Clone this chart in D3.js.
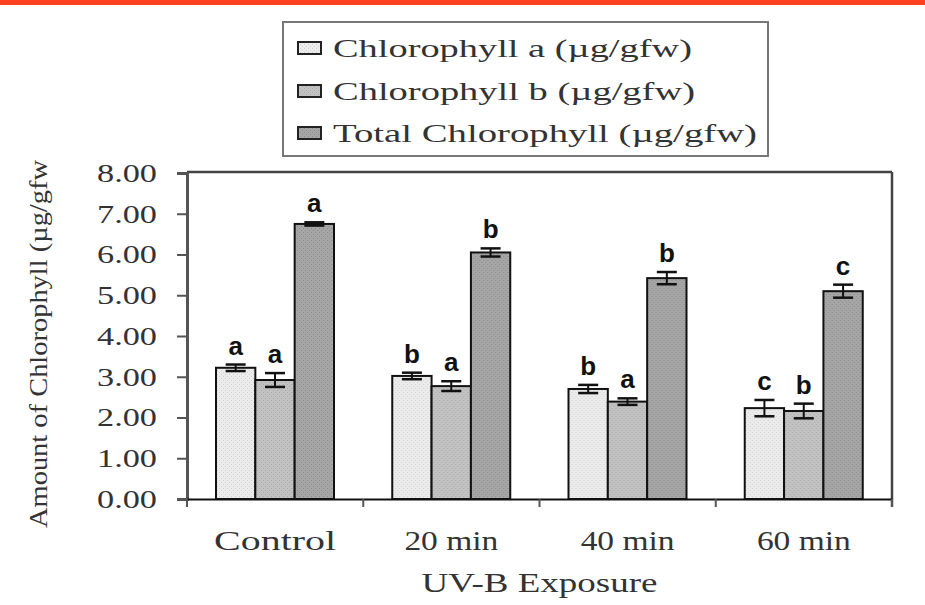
<!DOCTYPE html>
<html><head><meta charset="utf-8">
<script src="https://cdn.jsdelivr.net/npm/d3@7"></script>
<style>body{margin:0;background:#fff}svg{display:block}</style>
</head><body>
<svg id="c" width="925" height="605"></svg>
<script>
const categories = ["Control", "20 min", "40 min", "60 min"];
const seriesNames = ["Chlorophyll a (µg/gfw)", "Chlorophyll b (µg/gfw)", "Total Chlorophyll (µg/gfw)"];
const chlA = [3.22, 3.02, 2.70, 2.23];
const chlB = [2.92, 2.77, 2.39, 2.16];
const chlTotal = [6.75, 6.05, 5.42, 5.10];
const errA = [0.08, 0.08, 0.10, 0.20];
const errB = [0.17, 0.12, 0.08, 0.18];
const errTotal = [0.04, 0.10, 0.15, 0.16];
const sigA = ["a", "b", "b", "c"];
const sigB = ["a", "a", "a", "b"];
const sigTotal = ["a", "b", "b", "c"];
const yTicks = [0, 1, 2, 3, 4, 5, 6, 7, 8];

(function () {
const values = [chlA, chlB, chlTotal];
const errs = [errA, errB, errTotal];
const sigs = [sigA, sigB, sigTotal];
const fills = ["#ececec", "#c2c2c2", "#a6a6a6"];
const dots = ["#cfcfcf", "#a8a8a8", "#8a8a8a"];

const svg = d3.select("#c");
const serif = "'Liberation Serif','Times New Roman',serif";

svg.append("rect").attr("x", 0).attr("y", 0).attr("width", 925).attr("height", 5).attr("fill", "#ff3f1e");

const defs = svg.append("defs");
fills.forEach((f, i) => {
  const p = defs.append("pattern").attr("id", "pat" + i).attr("patternUnits", "userSpaceOnUse")
    .attr("width", 4).attr("height", 4);
  p.append("rect").attr("width", 4).attr("height", 4).attr("fill", f);
  p.append("rect").attr("x", 0).attr("y", 0).attr("width", 1).attr("height", 1).attr("fill", dots[i]);
  p.append("rect").attr("x", 2).attr("y", 2).attr("width", 1).attr("height", 1).attr("fill", dots[i]);
});

const pL = 187, pR = 892, pT = 173, pB = 499;
const x0 = d3.scaleBand().domain(categories).range([pL, pR]).padding(0);
const x1 = d3.scaleBand().domain(d3.range(3)).range([29, 147]).padding(0);
const y = d3.scaleLinear().domain([0, 8]).range([pB, pT]);

const groups = svg.append("g").selectAll("g").data(categories).join("g")
  .attr("transform", d => `translate(${x0(d)},0)`);
groups.each(function (cat, ci) {
  const g = d3.select(this);
  for (let s = 0; s < 3; s++) {
    const v = values[s][ci], e = errs[s][ci];
    const bx = x1(s), bw = x1.bandwidth();
    g.append("rect").attr("x", bx).attr("y", y(v)).attr("width", bw).attr("height", y(0) - y(v))
      .attr("fill", `url(#pat${s})`).attr("stroke", "#111").attr("stroke-width", 2);
    const cx = bx + bw / 2;
    g.append("line").attr("x1", cx).attr("x2", cx).attr("y1", y(v + e)).attr("y2", y(v - e))
      .attr("stroke", "#111").attr("stroke-width", 2);
    [v + e, v - e].forEach(t => g.append("line").attr("x1", cx - 10).attr("x2", cx + 10)
      .attr("y1", y(t)).attr("y2", y(t)).attr("stroke", "#111").attr("stroke-width", 2.5));
    g.append("text").attr("x", cx).attr("y", y(v + e) - 10).attr("text-anchor", "middle")
      .attr("font-family", "'Liberation Sans',Arial,sans-serif").attr("font-weight", "bold")
      .attr("font-size", 26).attr("fill", "#111").text(sigs[s][ci]);
  }
});

svg.append("line").attr("x1", pL).attr("x2", pR).attr("y1", pT - 1).attr("y2", pT - 1)
  .attr("stroke", "#444").attr("stroke-width", 2.5);
svg.append("line").attr("x1", pR).attr("x2", pR).attr("y1", pT - 1).attr("y2", pB + 8)
  .attr("stroke", "#444").attr("stroke-width", 2.5);

const yAxis = svg.append("g").attr("transform", `translate(${pL},0)`)
  .call(d3.axisLeft(y).tickValues(yTicks).tickFormat(d3.format(".2f")).tickSize(10).tickPadding(20));
yAxis.select(".domain").attr("stroke", "#555").attr("stroke-width", 3);
yAxis.selectAll(".tick line").attr("stroke", "#555").attr("stroke-width", 2);
yAxis.selectAll(".tick text").attr("font-family", serif).attr("font-size", 25).attr("fill", "#333")
  .attr("dy", "0.33em").attr("x", -30).attr("textLength", 60).attr("lengthAdjust", "spacingAndGlyphs");

const xAxis = svg.append("g").attr("transform", `translate(0,${pB})`)
  .call(d3.axisBottom(x0).tickSize(0).tickPadding(0));
xAxis.select(".domain").attr("stroke", "#111").attr("stroke-width", 2);
xAxis.selectAll(".tick text").attr("font-family", serif).attr("font-size", 27).attr("fill", "#333")
  .attr("dy", 0).attr("y", 51)
  .attr("textLength", d => d === "Control" ? 122 : 94).attr("lengthAdjust", "spacingAndGlyphs");
const bounds = categories.map(c => x0(c)).concat([pR]);
svg.append("g").selectAll("line").data(bounds).join("line")
  .attr("x1", d => d).attr("x2", d => d).attr("y1", pB).attr("y2", pB + 8)
  .attr("stroke", "#555").attr("stroke-width", 2);

svg.append("text").attr("x", (pL + pR) / 2).attr("y", 592).attr("text-anchor", "middle")
  .attr("font-family", serif).attr("font-size", 27).attr("fill", "#333")
  .attr("textLength", 236).attr("lengthAdjust", "spacingAndGlyphs").text("UV-B Exposure");
svg.append("text").attr("transform", "translate(47,344) rotate(-90)").attr("text-anchor", "middle")
  .attr("font-family", serif).attr("font-size", 26).attr("fill", "#333")
  .attr("textLength", 368).attr("lengthAdjust", "spacingAndGlyphs").text("Amount of Chlorophyll (µg/gfw");

const lg = svg.append("g");
lg.append("rect").attr("x", 283).attr("y", 22).attr("width", 485).attr("height", 134)
  .attr("fill", "#fff").attr("stroke", "#777").attr("stroke-width", 2);
const legendY = [48, 91, 133];
const legendW = [359, 362, 424];
seriesNames.forEach((n, i) => {
  lg.append("rect").attr("x", 298).attr("y", legendY[i] - 6).attr("width", 23).attr("height", 12)
    .attr("fill", `url(#pat${i})`).attr("stroke", "#222").attr("stroke-width", 2);
  lg.append("text").attr("x", 333).attr("y", legendY[i] + 9).attr("font-family", serif)
    .attr("font-size", 25).attr("fill", "#333")
    .attr("textLength", legendW[i]).attr("lengthAdjust", "spacingAndGlyphs").text(n);
});
})();
</script>
</body></html>
